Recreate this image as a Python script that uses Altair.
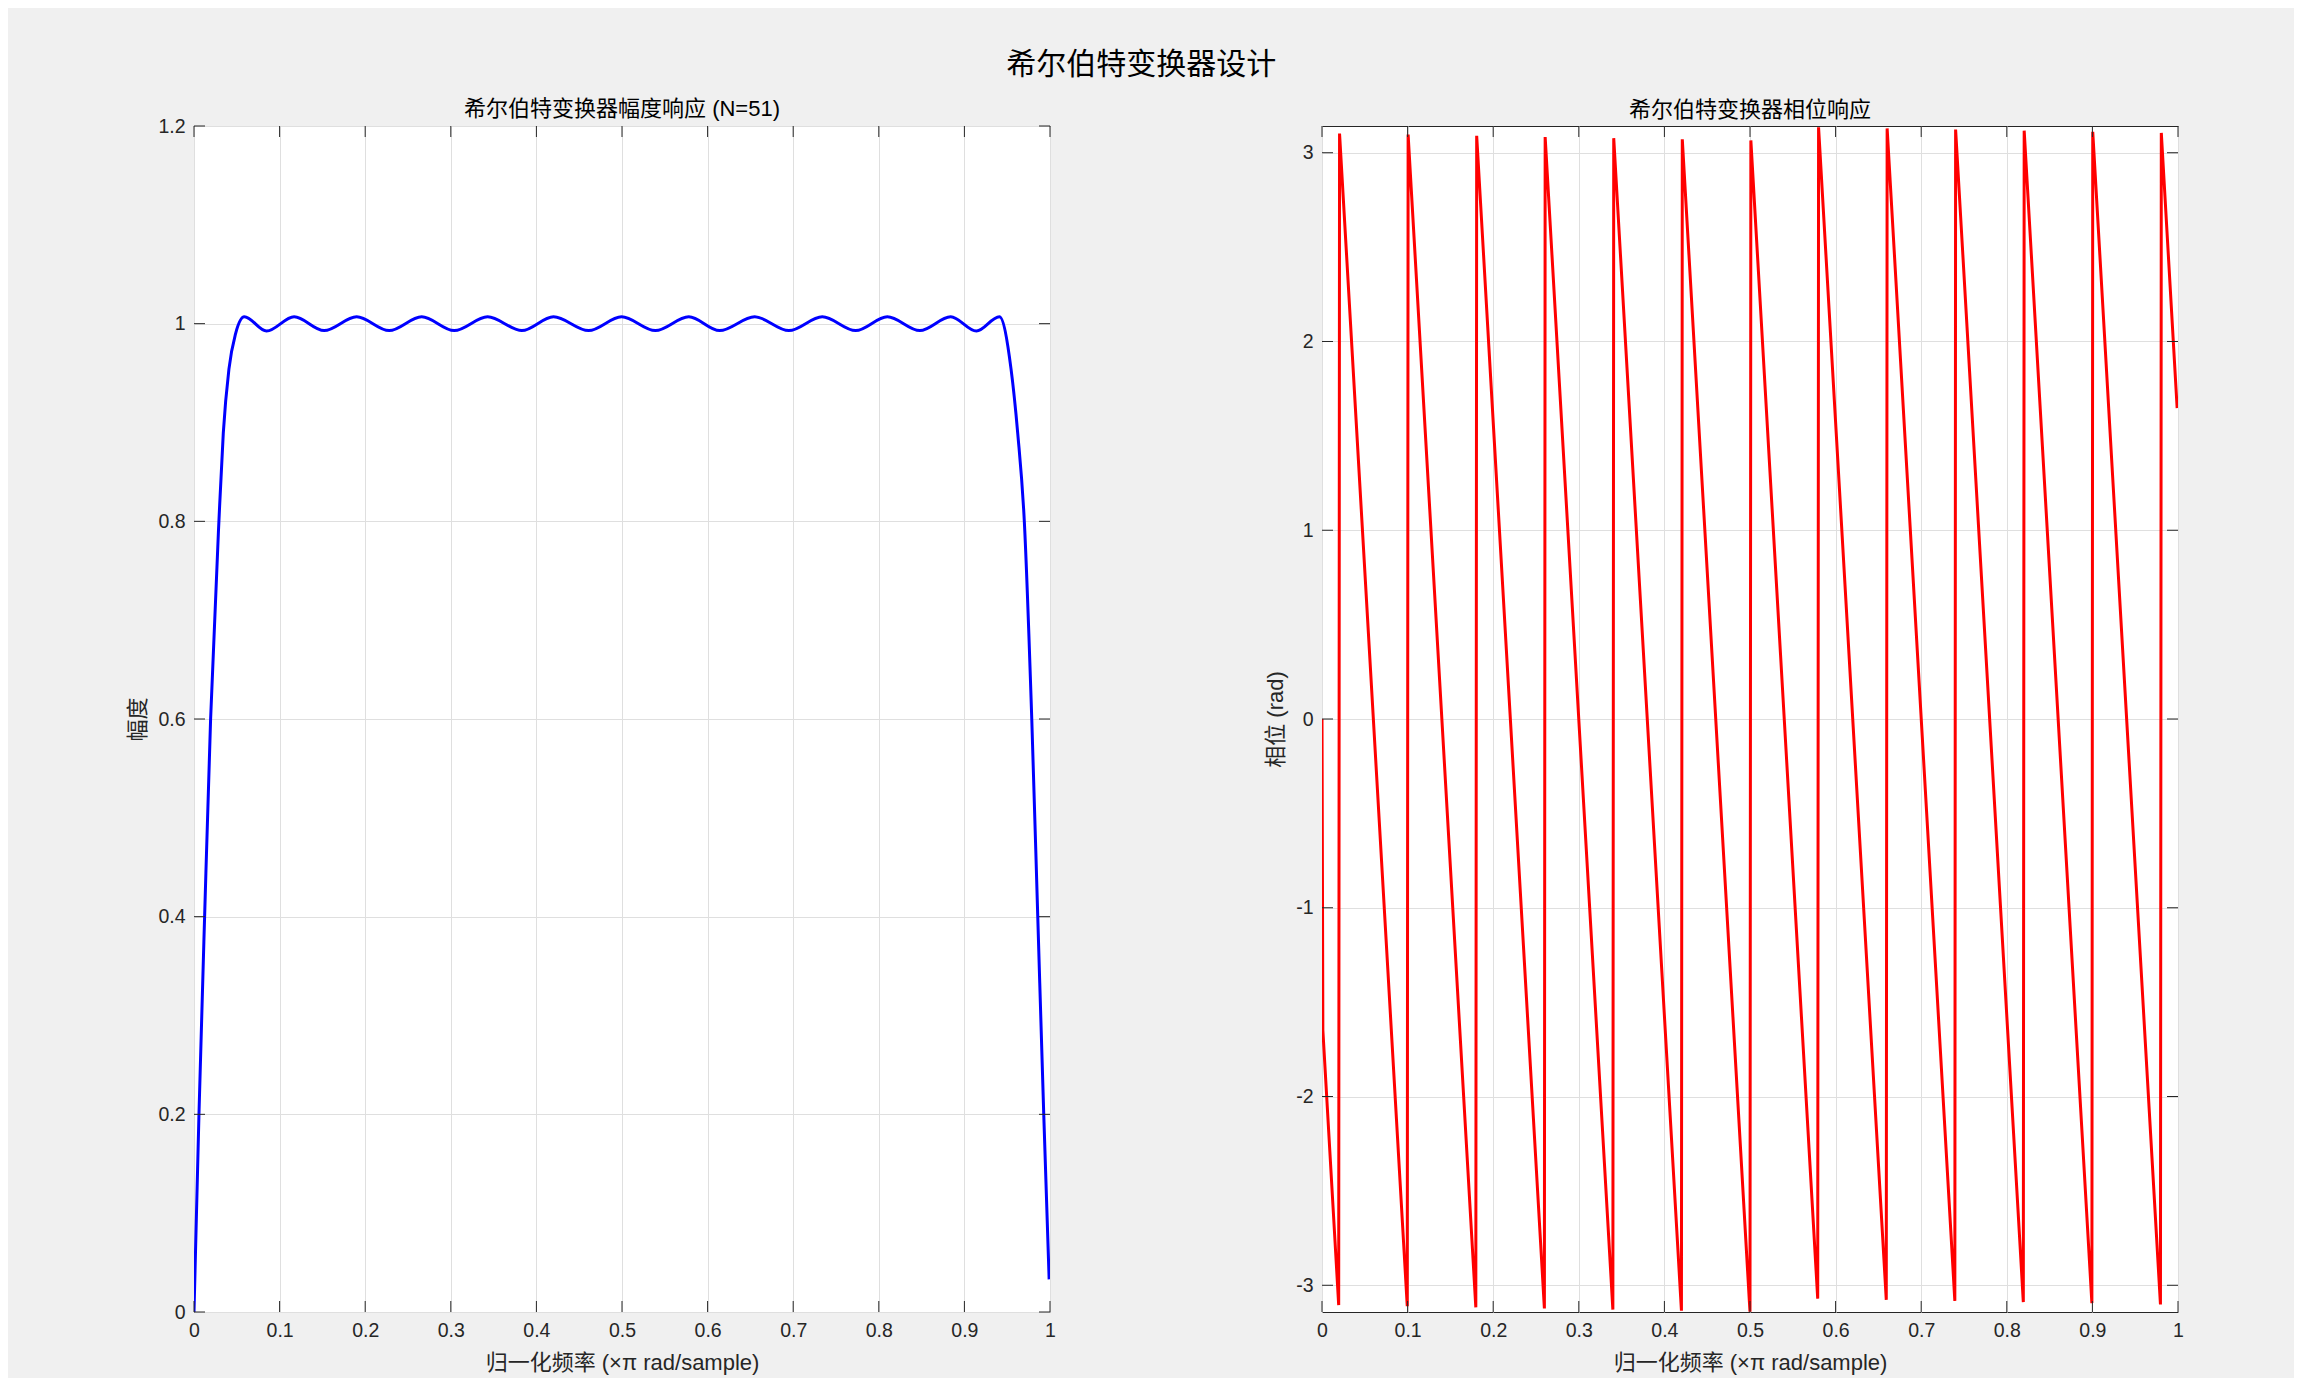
import altair as alt
import pandas as pd
import numpy as np

# ---- data ----
# magnitude response (normalized frequency x pi rad/sample)
mag_x = [0.0, 0.0058, 0.0124, 0.0194, 0.0291, 0.0342, 0.0408, 0.0486, 0.0588,
         0.0848, 0.117, 0.152, 0.190, 0.228, 0.266, 0.304, 0.343, 0.383, 0.420,
         0.461, 0.4995, 0.539, 0.578, 0.614, 0.655, 0.695, 0.734, 0.773, 0.810,
         0.848, 0.884, 0.914, 0.9409, 0.9545, 0.9623, 0.970, 0.9787, 0.9857,
         0.9927, 0.999]
mag_y = [0.0, 0.2, 0.4, 0.6, 0.8, 0.889, 0.954, 0.990, 1.007,
         0.9925, 1.007, 0.993, 1.007, 0.993, 1.007, 0.993, 1.007, 0.993, 1.007,
         0.993, 1.007, 0.993, 1.007, 0.993, 1.007, 0.993, 1.007, 0.993, 1.007,
         0.993, 1.007, 0.9925, 1.007, 0.954, 0.889, 0.800, 0.600, 0.400,
         0.200, 0.033]

# phase response vertices (rad)
phase_x = [0.0, 0.001, 0.0195, 0.0205, 0.0996, 0.1006, 0.1797, 0.1807,
           0.2598, 0.2607, 0.3398, 0.3408, 0.4199, 0.4209, 0.4990, 0.5000,
           0.5010, 0.5791, 0.5801, 0.6592, 0.6602, 0.7393, 0.7402, 0.8193,
           0.8203, 0.8994, 0.9004, 0.9795, 0.9805, 0.999]
phase_y = [0.0, -1.648, -3.105, 3.102, -3.111, 3.096, -3.117, 3.090,
           -3.123, 3.083, -3.129, 3.077, -3.135, 3.071, -3.065, -3.140,
           3.065, -3.071, 3.135, -3.077, 3.129, -3.083, 3.123, -3.089,
           3.117, -3.095, 3.111, -3.102, 3.105, 1.647]

x_ticks = [0, 0.1, 0.2, 0.3, 0.4, 0.5, 0.6, 0.7, 0.8, 0.9, 1]
mag_ticks = [0, 0.2, 0.4, 0.6, 0.8, 1.0, 1.2]
phase_ticks = [-3, -2, -1, 0, 1, 2, 3]

# ---- styling ----
W, H = 856, 1186
TICK = 11
AX = "#262626"
GRID = "#DFDFDF"
NUM_FONT = "Liberation Sans"
MIX_FONT = "Liberation Sans, Noto Sans CJK SC"
LBL = 19.5
TTL = 22

xscale = alt.Scale(domain=[0, 1], nice=False, zero=False)


def x_axis():
    return alt.Axis(values=x_ticks, format=".1~f", title="归一化频率 (×π rad/sample)",
                    ticks=False, domain=False, grid=True, gridColor=GRID, gridWidth=1,
                    labelFont=NUM_FONT, labelFontSize=LBL, labelColor=AX, labelPadding=9,
                    labelFlush=False, titleFont=MIX_FONT, titleFontSize=TTL,
                    titleColor=AX, titleFontWeight="normal", titlePadding=13)


def y_axis(vals, title, expr):
    return alt.Axis(values=vals, labelExpr=expr, title=title,
                    ticks=False, domain=False, grid=True, gridColor=GRID, gridWidth=1,
                    labelFont=NUM_FONT, labelFontSize=LBL, labelColor=AX, labelPadding=9,
                    labelFlush=False, titleFont=MIX_FONT, titleFontSize=TTL,
                    titleColor=AX, titleFontWeight="normal", titlePadding=8)


def panel(df, ydomain, yticks, ytitle, title, color, interp, expr, toff):
    yscale = alt.Scale(domain=ydomain, nice=False, zero=False)
    xa = x_axis()
    ya = y_axis(yticks, ytitle, expr)
    line = alt.Chart(df).mark_line(color=color, strokeWidth=3, interpolate=interp,
                                   clip=True).encode(
        x=alt.X("x:Q", scale=xscale, axis=xa),
        y=alt.Y("y:Q", scale=yscale, axis=ya),
        order="i:Q")
    xt = pd.DataFrame({"x": x_ticks})
    yt = pd.DataFrame({"y": yticks})
    bot = alt.Chart(xt).mark_rule(color=AX, strokeWidth=1).encode(
        x=alt.X("x:Q", scale=xscale, axis=xa), y=alt.value(H), y2=alt.value(H - TICK))
    top = alt.Chart(xt).mark_rule(color=AX, strokeWidth=1).encode(
        x=alt.X("x:Q", scale=xscale, axis=xa), y=alt.value(0), y2=alt.value(TICK))
    lft = alt.Chart(yt).mark_rule(color=AX, strokeWidth=1).encode(
        y=alt.Y("y:Q", scale=yscale, axis=ya), x=alt.value(0), x2=alt.value(TICK))
    rgt = alt.Chart(yt).mark_rule(color=AX, strokeWidth=1).encode(
        y=alt.Y("y:Q", scale=yscale, axis=ya), x=alt.value(W - TICK), x2=alt.value(W))
    return alt.layer(line, bot, top, lft, rgt).properties(
        width=W, height=H,
        title=alt.TitleParams(title, font=MIX_FONT, fontSize=TTL, fontWeight="normal",
                              color="#000000", offset=toff))


mag_df = pd.DataFrame({"x": mag_x, "y": mag_y, "i": range(len(mag_x))})
ph_df = pd.DataFrame({"x": phase_x, "y": phase_y, "i": range(len(phase_x))})

left = panel(mag_df, [0, 1.2], mag_ticks, "幅度", "希尔伯特变换器幅度响应 (N=51)",
             "#0000FF", "monotone", "format(datum.value, '.1~f')", -5)
right = panel(ph_df, [-np.pi, np.pi], phase_ticks, "相位 (rad)", "希尔伯特变换器相位响应",
              "#FF0000", "linear",
              "datum.value < 0 ? '-' + format(-datum.value, 'd') : format(datum.value, 'd')",
              4)

chart = alt.hconcat(left, right, spacing=208).properties(
    title=alt.TitleParams("希尔伯特变换器设计", font="Noto Sans CJK SC", fontSize=30,
                          fontWeight="normal", color="#000000", anchor="middle",
                          offset=18, dx=-14),
    padding={"left": 118, "top": 41, "right": 110, "bottom": 4},
).configure(background="#F0F0F0").configure_view(stroke=AX, strokeWidth=1, fill="white")

chart.save("out.html", embed_options={"renderer": "svg", "actions": False})
